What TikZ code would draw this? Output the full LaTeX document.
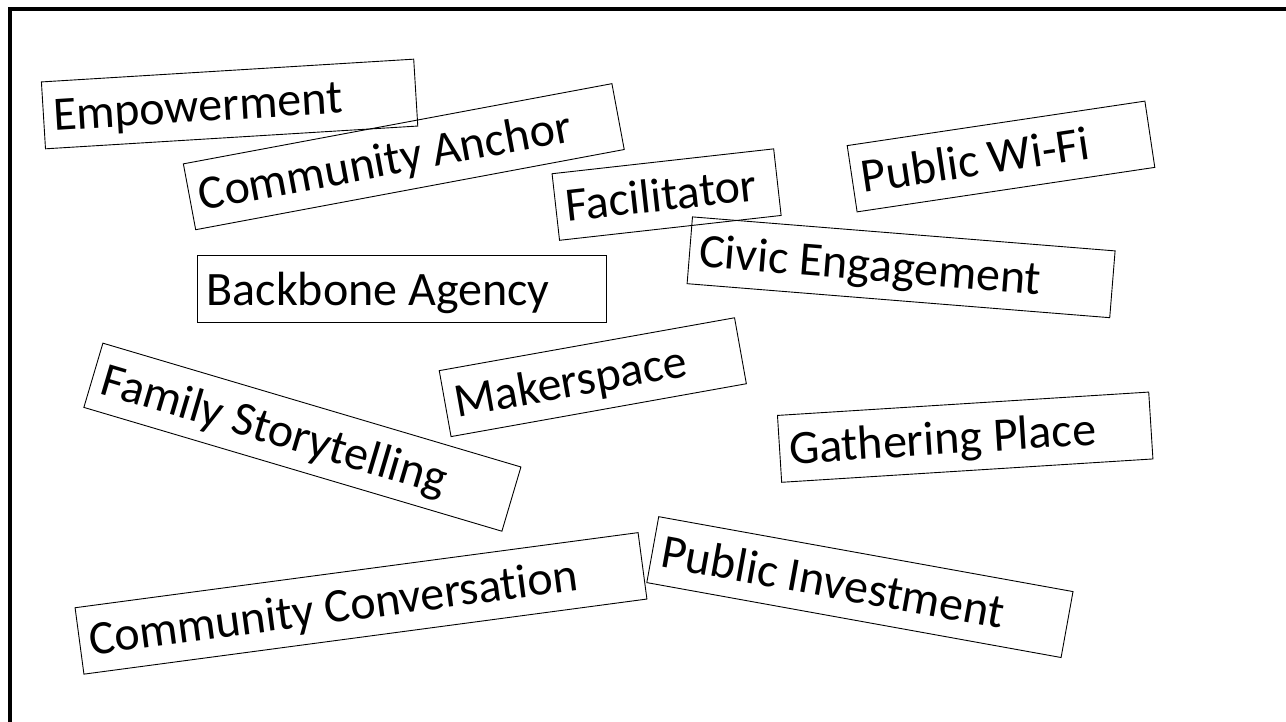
\documentclass[tikz,border=0pt]{standalone}
\usepackage{fontspec}
\setmainfont{Carlito}[Ligatures=NoCommon]
\begin{document}
\begin{tikzpicture}[x=1pt,y=1pt,
  wordbox/.style={draw=black, line width=0.9pt, inner xsep=9.6pt, inner ysep=0pt,
    text height=49.3pt, text depth=17.7pt,
    font=\fontsize{48}{58}\selectfont,
    execute at begin node={\spaceskip=10.9pt\relax}}]
\useasboundingbox (0,0) rectangle (1286,722);
\clip (0,0) rectangle (1286,722);
\draw[line width=3.5pt] (10,-20) rectangle (1320,713);

\node[wordbox, text width=353.8pt, rotate=3.5] (empower) at (229.6,618) {Empowerment};
\node[wordbox, text width=416.8pt, rotate=10.6] (anchor) at (403.8,565.3) {Community Anchor};
\node[wordbox, text width=203.8pt, rotate=6.4] (facil) at (666.6,527.4) {Facilitator};
\node[wordbox, text width=281.8pt, rotate=8.5] (wifi) at (1001,565.5) {Public Wi-Fi};
\node[wordbox, text width=404.8pt, rotate=-4.6] (civic) at (901.1,454.7) {Civic Engagement};
\node[wordbox, text width=389.8pt] (backbone) at (401.5,432.7) {Backbone Agency};
\node[wordbox, text width=416.8pt, rotate=-16.5] (family) at (302.4,284.8) {Family Storytelling};
\node[wordbox, text width=280.8pt, rotate=10.15] (maker) at (592.8,344.8) {Makerspace};
\node[wordbox, text width=352.8pt, rotate=3.6] (gather) at (965.2,284.8) {Gathering Place};
\node[wordbox, text width=548.8pt, rotate=7.6] (convers) at (361,118.6) {Community Conversation};
\node[wordbox, text width=401.8pt, rotate=-10.25] (invest) at (859.9,134.9) {Public Investment};
\end{tikzpicture}
\end{document}
